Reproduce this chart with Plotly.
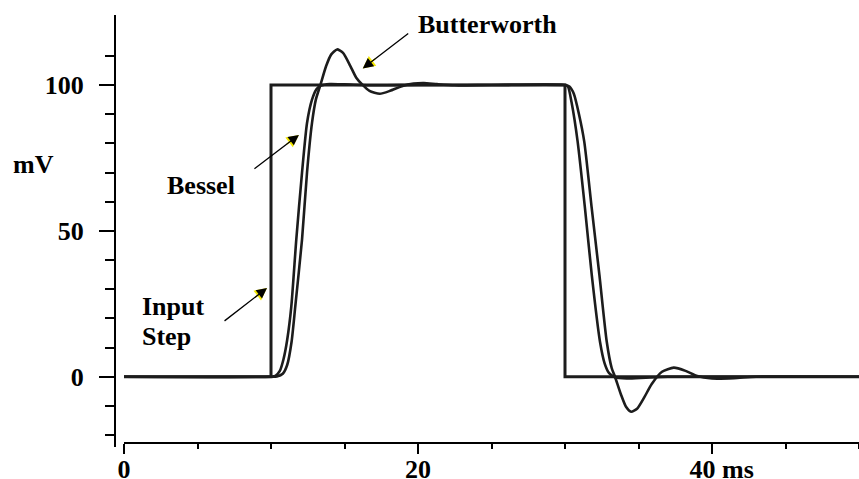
import plotly.graph_objects as go

# ---- data ----
step_t = [0, 10, 10, 30, 30, 50]
step_v = [0, 0, 100, 100, 0, 0]

bessel_t = [0, 10, 10.3, 10.6, 10.85, 11.1, 11.38, 11.72, 12.11, 12.45, 12.79, 13.1, 13.4, 14.0,
            15.0, 17, 20, 25, 30, 30.2, 30.45, 30.86, 31.36, 31.82, 32.38, 32.7, 33.0, 33.4,
            34.2, 35.5, 37, 50]
bessel_v = [0, 0, 0.3, 2, 6, 12.6, 24, 47, 70, 87, 95, 98.6, 99.8, 100.3,
            100.2, 99.9, 100, 100, 100, 99.5, 94, 80.6, 57.7, 34.9, 12, 4.5, 1.2, -0.2,
            -0.6, -0.3, 0, 0]

butter_t = [0, 10, 10.4, 10.8, 11.1, 11.4, 11.65, 12.11, 12.45, 12.79, 13.05, 13.36, 13.75,
            14.1, 14.49, 14.9, 15.4, 15.8, 16.2, 16.7, 17.4, 18.1, 18.9, 19.7, 20.4, 21.3,
            22.5, 25, 30, 30.3, 30.6, 30.95, 31.31, 31.82, 32.34, 32.84, 33.18, 33.4, 33.8,
            34.15, 34.5, 34.9, 35.4, 35.9, 36.6, 37.4, 38.2, 39, 40, 41.5, 43, 50]
butter_v = [0, 0, 0.1, 1, 4, 12, 24, 47, 70, 87, 95, 100, 106.5,
            110.5, 112.2, 111, 106.5, 102.5, 100.2, 98, 97, 98, 99.6, 100.5, 100.7, 100.3,
            99.9, 100, 100, 99.5, 97, 90, 80.6, 57.7, 34.9, 12, 2.9, 0, -6,
            -10.3, -12, -11, -7, -2.5, 1.7, 3.1, 2, 0.2, -0.6, -0.5, 0, 0]

x_tickvals = [0, 20, 40]
x_ticktext = ["0", "20", "\u00a0\u00a0\u00a040 ms"]
y_tickvals = [0, 50, 100]
y_ticktext = ["0", "50", "100"]
y_minor_vals = [-20, -10, 10, 20, 30, 40, 60, 70, 80, 90, 110]

FONT = "Liberation Serif, Times New Roman, serif"
INK = "#1c1c1c"

fig = go.Figure()
fig.add_trace(go.Scatter(x=step_t, y=step_v, mode="lines",
                         line=dict(color=INK, width=3), hoverinfo="skip"))
fig.add_trace(go.Scatter(x=bessel_t, y=bessel_v, mode="lines",
                         line=dict(color=INK, width=2.6, shape="spline", smoothing=0.6),
                         hoverinfo="skip"))
fig.add_trace(go.Scatter(x=butter_t, y=butter_v, mode="lines",
                         line=dict(color=INK, width=2.6, shape="spline", smoothing=0.6),
                         hoverinfo="skip"))

tfont = dict(family=FONT, size=26, color="black", weight="bold")

# arrows: (tip_x, tip_y, dx, dy)
arrows = [
    (16.24, 105.7, 47, -36),   # Butterworth
    (11.9, 82.9, -46, 35),     # Bessel
    (9.73, 30.4, -44, 34),     # Input step
]
anns = []
for (tx, ty, dx, dy) in arrows:
    # yellow halo head
    anns.append(dict(x=tx, y=ty, xref="x", yref="y", ax=dx * 0.3, ay=dy * 0.3,
                     showarrow=True, arrowhead=2, arrowsize=1.9, arrowwidth=1.3,
                     arrowcolor="#f2e600", text=""))
    anns.append(dict(x=tx, y=ty, xref="x", yref="y", ax=dx, ay=dy,
                     showarrow=True, arrowhead=2, arrowsize=1.6, arrowwidth=1.3,
                     arrowcolor="black", text=""))

anns += [
    dict(x=24.7, y=120.9, xref="x", yref="y", text="Butterworth", showarrow=False,
         font=tfont, xanchor="center", yanchor="middle"),
    dict(x=5.24, y=65.4, xref="x", yref="y", text="Bessel", showarrow=False,
         font=tfont, xanchor="center", yanchor="middle"),
    dict(x=1.09, y=24.0, xref="x", yref="y", text="Input", showarrow=False,
         font=tfont, xanchor="left", yanchor="middle", align="left"),
    dict(x=1.09, y=13.8, xref="x", yref="y", text="Step", showarrow=False,
         font=tfont, xanchor="left", yanchor="middle", align="left"),
    dict(x=-0.110, y=72.6, xref="paper", yref="y", text="mV", showarrow=False,
         font=tfont, xanchor="center", yanchor="middle"),
]

fig.update_layout(
    width=859, height=479,
    margin=dict(l=115, r=0, t=15, b=32),
    paper_bgcolor="white", plot_bgcolor="white",
    showlegend=False,
    annotations=anns,
    xaxis=dict(domain=[9 / 744, 1], range=[0, 50], anchor="free", position=4 / 432,
               automargin=False,
               showline=True, linecolor="black", linewidth=2,
               showgrid=False, zeroline=False,
               tickmode="array", tickvals=x_tickvals, ticktext=x_ticktext,
               ticks="outside", ticklen=10, tickwidth=2, tickcolor="black",
               tickfont=tfont, ticklabelstandoff=-7,
               minor=dict(dtick=5, tick0=0, ticks="outside", ticklen=5, tickwidth=2,
                          tickcolor="black", showgrid=False)),
    yaxis=dict(range=[-24.1, 124.0], anchor="free", position=0,
               automargin=False,
               showline=True, linecolor="black", linewidth=2,
               showgrid=False, zeroline=False,
               tickmode="array", tickvals=y_tickvals, ticktext=y_ticktext,
               ticks="outside", ticklen=15, tickwidth=2, tickcolor="black",
               tickfont=tfont, ticklabelstandoff=10,
               minor=dict(tickvals=y_minor_vals, ticks="outside", ticklen=9, tickwidth=2,
                          tickcolor="black", showgrid=False)),
)

fig.write_html("out.html")
